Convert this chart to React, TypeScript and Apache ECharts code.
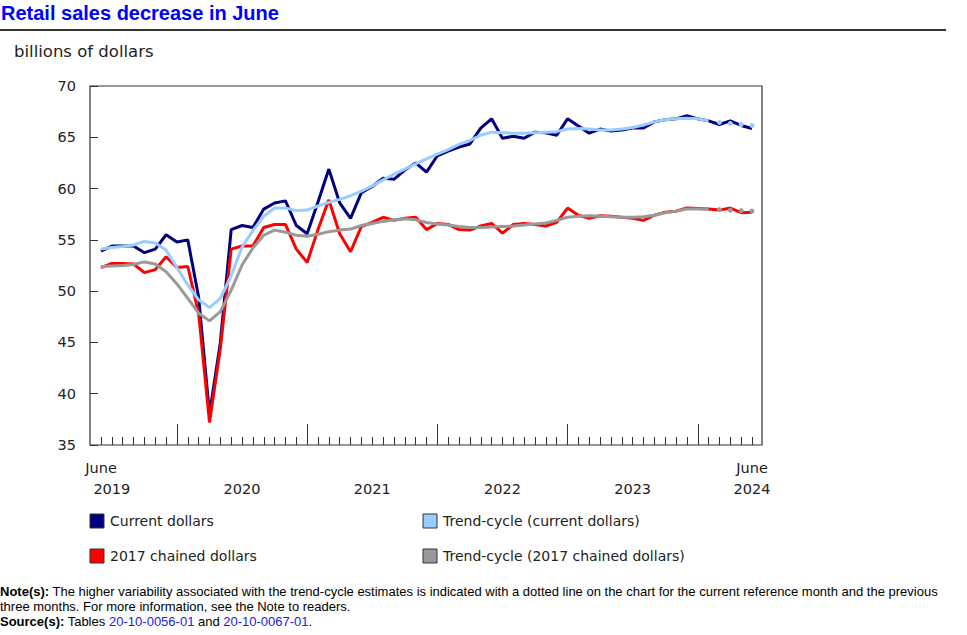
import React, { useEffect, useRef } from "react";
import * as echarts from "echarts";

// Months June 2019 .. June 2024
const categories = [
  "2019-06","2019-07","2019-08","2019-09","2019-10","2019-11","2019-12",
  "2020-01","2020-02","2020-03","2020-04","2020-05","2020-06","2020-07","2020-08","2020-09","2020-10","2020-11","2020-12",
  "2021-01","2021-02","2021-03","2021-04","2021-05","2021-06","2021-07","2021-08","2021-09","2021-10","2021-11","2021-12",
  "2022-01","2022-02","2022-03","2022-04","2022-05","2022-06","2022-07","2022-08","2022-09","2022-10","2022-11","2022-12",
  "2023-01","2023-02","2023-03","2023-04","2023-05","2023-06","2023-07","2023-08","2023-09","2023-10","2023-11","2023-12",
  "2024-01","2024-02","2024-03","2024-04","2024-05","2024-06",
];

const currentDollars = [
  53.9, 54.4, 54.4, 54.4, 53.75, 54.1, 55.5,
  54.8, 55.0, 49.4, 38.0, 45.0, 56.0, 56.4, 56.2, 58.0, 58.6, 58.8, 56.4,
  55.6, 58.7, 61.9, 58.6, 57.1, 59.6, 60.2, 61.0, 60.9, 61.8, 62.5, 61.6,
  63.2, 63.65, 64.05, 64.35, 65.9, 66.8, 64.9, 65.1, 64.9, 65.5, 65.45, 65.2,
  66.8, 66.1, 65.4, 65.8, 65.6, 65.7, 65.9, 65.9, 66.5, 66.7, 66.8, 67.1,
  66.8, 66.6, 66.25, 66.6, 66.15, 65.85,
];

const chainedDollars = [
  52.3, 52.7, 52.7, 52.65, 51.8, 52.1, 53.35,
  52.3, 52.4, 47.8, 37.2, 44.4, 54.1, 54.4, 54.4, 56.2, 56.5, 56.5, 54.1,
  52.8, 56.0, 58.9, 55.6, 53.85, 56.3, 56.7, 57.2, 56.9, 57.1, 57.2, 56.0,
  56.6, 56.5, 56.0, 55.95, 56.35, 56.6, 55.65, 56.5, 56.6, 56.5, 56.35, 56.7,
  58.1, 57.4, 57.1, 57.35, 57.3, 57.2, 57.1, 56.9, 57.4, 57.7, 57.8, 58.1,
  58.05, 58.0, 57.9, 58.1, 57.65, 57.7,
];

const trendCurrent = [
  54.1, 54.25, 54.35, 54.5, 54.85, 54.7, 54.0,
  52.3, 50.6, 49.15, 48.4, 49.3, 51.5, 54.3, 55.9, 57.3, 58.1, 58.1, 57.85,
  57.9, 58.3, 58.65, 58.95, 59.3, 59.75, 60.25, 60.85, 61.4, 61.9, 62.4, 62.9,
  63.35, 63.8, 64.3, 64.7, 65.2, 65.5, 65.45, 65.4, 65.4, 65.45, 65.5, 65.55,
  65.8, 65.85, 65.8, 65.7, 65.7, 65.8, 65.95, 66.2, 66.5, 66.7, 66.8, 66.85,
  66.8, 66.6, 66.45, 66.35, 66.25, 66.15,
];

const trendChained = [
  52.4, 52.45, 52.5, 52.6, 52.85, 52.65, 51.9,
  50.7, 49.3, 47.85, 47.1, 48.0, 50.1, 52.55, 54.2, 55.45, 55.95, 55.75, 55.45,
  55.35, 55.55, 55.8, 55.95, 56.05, 56.4, 56.6, 56.8, 56.95, 57.05, 56.95, 56.7,
  56.55, 56.45, 56.3, 56.2, 56.2, 56.25, 56.3, 56.35, 56.45, 56.55, 56.65, 56.9,
  57.2, 57.3, 57.35, 57.3, 57.25, 57.2, 57.2, 57.25, 57.4, 57.65, 57.8, 58.0,
  58.0, 58.0, 57.95, 57.9, 57.85, 57.8,
];

// number of final trend-cycle months shown dotted
const dottedMonths = 4;

const monthLabelIdx = [0, 60];
const monthLabelText = ["June", "June"];
const yearLabelIdx = [1, 13, 25, 37, 49, 60];
const yearLabelText = ["2019", "2020", "2021", "2022", "2023", "2024"];

const legendItems = [
  { name: "Current dollars", color: "#000080" },
  { name: "Trend-cycle (current dollars)", color: "#99CCFF" },
  { name: "2017 chained dollars", color: "#FF0000" },
  { name: "Trend-cycle (2017 chained dollars)", color: "#999999" },
];

const VERDANA = '"DejaVu Sans", Verdana, sans-serif';
const ARIAL = '"Liberation Sans", Arial, sans-serif';
const AXIS_FS = 14.5;
const LEGEND_FS = 14;

export default function App() {
  const ref = useRef<HTMLDivElement>(null);

  useEffect(() => {
    if (!ref.current) return;
    const chart = echarts.init(ref.current, undefined, { renderer: "svg" });
    const n = categories.length;
    const solidEnd = n - 1 - dottedMonths;
    const solidPart = (arr: number[]) => arr.map((v, i) => (i <= solidEnd ? v : "-"));
    const dottedPart = (arr: number[]) => arr.map((v, i) => (i > solidEnd ? v : "-"));

    const legendGraphics: any[] = [];
    const legX = [90, 423];
    const legY = [521, 556];
    legendItems.forEach((it, k) => {
      const col = k % 2;
      const row = Math.floor(k / 2);
      legendGraphics.push({
        type: "rect",
        shape: { x: legX[col], y: legY[row] - 7, width: 14, height: 14 },
        style: { fill: it.color, stroke: "#333333", lineWidth: 1 },
      });
      legendGraphics.push({
        type: "text",
        x: legX[col] + 20,
        y: legY[row],
        style: {
          text: it.name,
          fontFamily: VERDANA,
          fontSize: LEGEND_FS,
          fill: "#222222",
          verticalAlign: "middle",
        },
      });
    });

    const option: any = {
      animation: false,
      textStyle: { fontFamily: VERDANA },
      grid: { left: 101, right: 215, top: 86, bottom: 190, containLabel: false },
      xAxis: [
        {
          type: "category",
          data: categories,
          boundaryGap: false,
          axisLine: { show: false },
          axisTick: { show: true, inside: true, length: 8, interval: 0, lineStyle: { color: "#333333" } },
          axisLabel: {
            interval: 0,
            margin: 15,
            fontSize: AXIS_FS,
            color: "#222222",
            fontFamily: VERDANA,
            formatter: (_v: string, i: number) => {
              const k = monthLabelIdx.indexOf(i);
              return k >= 0 ? monthLabelText[k] : "";
            },
          },
          splitLine: { show: false },
        },
        {
          type: "category",
          data: categories,
          boundaryGap: false,
          position: "bottom",
          axisLine: { show: false },
          axisTick: {
            show: true,
            inside: true,
            length: 21,
            interval: (i: number) => categories[i].endsWith("-01"),
            lineStyle: { color: "#333333" },
          },
          axisLabel: {
            interval: 0,
            margin: 36,
            fontSize: AXIS_FS,
            color: "#222222",
            fontFamily: VERDANA,
            formatter: (_v: string, i: number) => {
              const k = yearLabelIdx.indexOf(i);
              return k >= 0 ? yearLabelText[k] : "";
            },
          },
          splitLine: { show: false },
        },
      ],
      yAxis: {
        type: "value",
        min: 35,
        max: 70,
        interval: 5,
        offset: 11,
        axisLine: { show: false },
        axisTick: { show: true, inside: true, length: 8, lineStyle: { color: "#333333" } },
        axisLabel: { margin: 14, fontSize: AXIS_FS, color: "#222222", fontFamily: VERDANA },
        splitLine: { show: false },
      },
      series: [
        {
          name: "Current dollars",
          type: "line",
          data: currentDollars,
          showSymbol: false,
          lineStyle: { color: "#000080", width: 3 },
          itemStyle: { color: "#000080" },
          z: 2,
        },
        {
          name: "2017 chained dollars",
          type: "line",
          data: chainedDollars,
          showSymbol: false,
          lineStyle: { color: "#FF0000", width: 3 },
          itemStyle: { color: "#FF0000" },
          z: 3,
        },
        {
          name: "Trend-cycle (current dollars)",
          type: "line",
          data: solidPart(trendCurrent),
          showSymbol: false,
          lineStyle: { color: "#99CCFF", width: 3 },
          itemStyle: { color: "#99CCFF" },
          z: 4,
        },
        {
          name: "Trend-cycle (2017 chained dollars)",
          type: "line",
          data: solidPart(trendChained),
          showSymbol: false,
          lineStyle: { color: "#999999", width: 3 },
          itemStyle: { color: "#999999" },
          z: 5,
        },
        {
          name: "Trend-cycle (current dollars) dotted",
          type: "line",
          data: dottedPart(trendCurrent),
          showSymbol: true,
          showAllSymbol: true,
          symbol: "circle",
          symbolSize: 5,
          lineStyle: { opacity: 0, width: 0 },
          itemStyle: { color: "#99CCFF" },
          z: 6,
        },
        {
          name: "Trend-cycle (2017 chained dollars) dotted",
          type: "line",
          data: dottedPart(trendChained),
          showSymbol: true,
          showAllSymbol: true,
          symbol: "circle",
          symbolSize: 5,
          lineStyle: { opacity: 0, width: 0 },
          itemStyle: { color: "#999999" },
          z: 6,
        },
      ],
      graphic: [
        {
          type: "text",
          x: 1,
          y: 13,
          style: {
            text: "Retail sales decrease in June",
            fontFamily: ARIAL,
            fontWeight: "bold",
            fontSize: 20,
            fill: "#0000FF",
            verticalAlign: "middle",
          },
        },
        {
          type: "line",
          shape: { x1: 0, y1: 30, x2: 946, y2: 30 },
          style: { stroke: "#333333", lineWidth: 2 },
        },
        {
          type: "text",
          x: 14,
          y: 51,
          style: {
            text: "billions of dollars",
            fontFamily: VERDANA,
            fontSize: 16.5,
            fill: "#222222",
            verticalAlign: "middle",
          },
        },
        {
          type: "rect",
          shape: { x: 90, y: 86, width: 672, height: 359 },
          style: { fill: "none", stroke: "#333333", lineWidth: 1.2 },
          z: 10,
        },
        ...legendGraphics,
        {
          type: "text",
          x: 0,
          y: 591,
          style: {
            text:
              "{b|Note(s):} The higher variability associated with the trend-cycle estimates is indicated with a dotted line on the chart for the current reference month and the previous",
            fontFamily: ARIAL,
            fontSize: 13,
            fill: "#000000",
            verticalAlign: "middle",
            rich: { b: { fontFamily: ARIAL, fontSize: 13, fontWeight: "bold", fill: "#000000" } },
          },
        },
        {
          type: "text",
          x: 0,
          y: 606,
          style: {
            text: "three months. For more information, see the Note to readers.",
            fontFamily: ARIAL,
            fontSize: 13,
            fill: "#000000",
            verticalAlign: "middle",
          },
        },
        {
          type: "text",
          x: 0,
          y: 621,
          style: {
            text: "{b|Source(s):} Tables {l|20-10-0056-01} and {l|20-10-0067-01}.",
            fontFamily: ARIAL,
            fontSize: 13,
            fill: "#000000",
            verticalAlign: "middle",
            rich: {
              b: { fontFamily: ARIAL, fontSize: 13, fontWeight: "bold", fill: "#000000" },
              l: { fontFamily: ARIAL, fontSize: 13, fill: "#2222DD" },
            },
          },
        },
      ],
    };

    chart.setOption(option);
    return () => chart.dispose();
  }, []);

  return (
    <div
      ref={ref}
      style={{ position: "absolute", left: 0, top: 0, width: 967, height: 635, background: "#ffffff" }}
    />
  );
}
